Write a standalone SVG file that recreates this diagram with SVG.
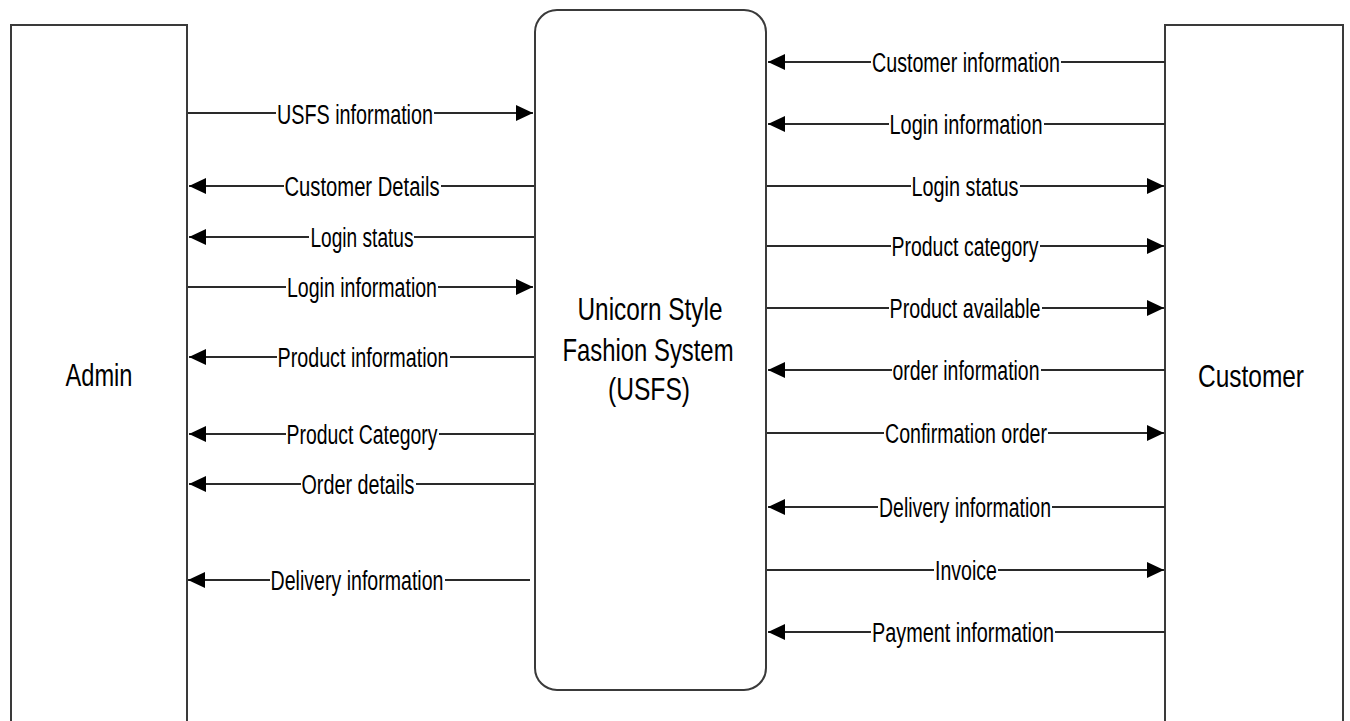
<svg xmlns="http://www.w3.org/2000/svg" width="1350" height="721" viewBox="0 0 1350 721">
  <defs>
    <marker id="arrow" markerUnits="userSpaceOnUse" markerWidth="20" markerHeight="18" refX="17" refY="8" orient="auto">
      <path d="M0,0 L17,8 L0,16 Z" fill="#000"/>
    </marker>
    <style>
      .box { fill: #fff; stroke: #3a3a3a; stroke-width: 2; }
      .flow { stroke: #2a2a2a; stroke-width: 2; fill: none; marker-end: url(#arrow); }
      .lbl { font-family: "Liberation Sans", Arial, sans-serif; font-size: 27px; fill: #000; text-anchor: middle; }
      .bg { fill: #fff; }
      .name { font-family: "Liberation Sans", Arial, sans-serif; font-size: 32px; fill: #000; text-anchor: middle; }
    </style>
  </defs>
  <rect width="1350" height="721" fill="#fff"/>

  <!-- external entity: Admin -->
  <g id="admin">
    <rect class="box" x="11" y="25" width="176" height="720"/>
    <text class="name" x="99" y="386" textLength="67" lengthAdjust="spacingAndGlyphs">Admin</text>
  </g>

  <!-- central process -->
  <g id="usfs">
    <rect class="box" x="535" y="10" width="231" height="680" rx="22" ry="22"/>
    <text class="name" x="650" y="320" textLength="145" lengthAdjust="spacingAndGlyphs">Unicorn Style</text>
    <text class="name" x="648" y="361" textLength="171" lengthAdjust="spacingAndGlyphs">Fashion System</text>
    <text class="name" x="649" y="400" textLength="82" lengthAdjust="spacingAndGlyphs">(USFS)</text>
  </g>

  <!-- external entity: Customer -->
  <g id="customer">
    <rect class="box" x="1165" y="25" width="178" height="720"/>
    <text class="name" x="1251" y="387" textLength="106" lengthAdjust="spacingAndGlyphs">Customer</text>
  </g>

  <!-- data flows -->
  <g id="connectors">
    <!-- Admin side -->
    <line class="flow" x1="188" y1="113" x2="533" y2="113"/>
    <line class="flow" x1="534" y1="186" x2="189" y2="186"/>
    <line class="flow" x1="534" y1="237" x2="189" y2="237"/>
    <line class="flow" x1="188" y1="287" x2="533" y2="287"/>
    <line class="flow" x1="534" y1="357" x2="189" y2="357"/>
    <line class="flow" x1="534" y1="434" x2="189" y2="434"/>
    <line class="flow" x1="534" y1="484" x2="189" y2="484"/>
    <line class="flow" x1="530" y1="580" x2="188" y2="580"/>

    <!-- Customer side -->
    <line class="flow" x1="1165" y1="62" x2="768" y2="62"/>
    <line class="flow" x1="1165" y1="124" x2="768" y2="124"/>
    <line class="flow" x1="767" y1="186" x2="1164" y2="186"/>
    <line class="flow" x1="767" y1="246" x2="1164" y2="246"/>
    <line class="flow" x1="767" y1="308" x2="1164" y2="308"/>
    <line class="flow" x1="1165" y1="370" x2="768" y2="370"/>
    <line class="flow" x1="767" y1="433" x2="1164" y2="433"/>
    <line class="flow" x1="1165" y1="507" x2="768" y2="507"/>
    <line class="flow" x1="767" y1="570" x2="1164" y2="570"/>
    <line class="flow" x1="1165" y1="632" x2="768" y2="632"/>

    <!-- label backgrounds -->
    <rect class="bg" x="276" y="102" width="158" height="24"/>
    <rect class="bg" x="284" y="175" width="157" height="24"/>
    <rect class="bg" x="309" y="226" width="105" height="24"/>
    <rect class="bg" x="286" y="276" width="152" height="24"/>
    <rect class="bg" x="277" y="346" width="173" height="24"/>
    <rect class="bg" x="286" y="423" width="153" height="24"/>
    <rect class="bg" x="301" y="473" width="115" height="24"/>
    <rect class="bg" x="270" y="569" width="175" height="24"/>

    <rect class="bg" x="871" y="51" width="190" height="24"/>
    <rect class="bg" x="889" y="113" width="155" height="24"/>
    <rect class="bg" x="911" y="175" width="109" height="24"/>
    <rect class="bg" x="891" y="235" width="149" height="24"/>
    <rect class="bg" x="889" y="297" width="153" height="24"/>
    <rect class="bg" x="892" y="359" width="149" height="24"/>
    <rect class="bg" x="884" y="422" width="164" height="24"/>
    <rect class="bg" x="878" y="496" width="174" height="24"/>
    <rect class="bg" x="934" y="559" width="64" height="24"/>
    <rect class="bg" x="871" y="621" width="184" height="24"/>

    <!-- labels -->
    <text class="lbl" x="355" y="124" textLength="156" lengthAdjust="spacingAndGlyphs">USFS information</text>
    <text class="lbl" x="362" y="196" textLength="155" lengthAdjust="spacingAndGlyphs">Customer  Details</text>
    <text class="lbl" x="362" y="247" textLength="103" lengthAdjust="spacingAndGlyphs">Login status</text>
    <text class="lbl" x="362" y="297" textLength="150" lengthAdjust="spacingAndGlyphs">Login information</text>
    <text class="lbl" x="363" y="367" textLength="171" lengthAdjust="spacingAndGlyphs">Product information</text>
    <text class="lbl" x="362" y="444" textLength="151" lengthAdjust="spacingAndGlyphs">Product Category</text>
    <text class="lbl" x="358" y="494" textLength="113" lengthAdjust="spacingAndGlyphs">Order details</text>
    <text class="lbl" x="357" y="590" textLength="173" lengthAdjust="spacingAndGlyphs">Delivery information</text>

    <text class="lbl" x="966" y="72" textLength="188" lengthAdjust="spacingAndGlyphs">Customer information</text>
    <text class="lbl" x="966" y="134" textLength="153" lengthAdjust="spacingAndGlyphs">Login information</text>
    <text class="lbl" x="965" y="196" textLength="107" lengthAdjust="spacingAndGlyphs">Login status</text>
    <text class="lbl" x="965" y="256" textLength="147" lengthAdjust="spacingAndGlyphs">Product category</text>
    <text class="lbl" x="965" y="318" textLength="151" lengthAdjust="spacingAndGlyphs">Product available</text>
    <text class="lbl" x="966" y="380" textLength="147" lengthAdjust="spacingAndGlyphs">order information</text>
    <text class="lbl" x="966" y="443" textLength="162" lengthAdjust="spacingAndGlyphs">Confirmation order</text>
    <text class="lbl" x="965" y="517" textLength="172" lengthAdjust="spacingAndGlyphs">Delivery information</text>
    <text class="lbl" x="966" y="580" textLength="62" lengthAdjust="spacingAndGlyphs">Invoice</text>
    <text class="lbl" x="963" y="642" textLength="182" lengthAdjust="spacingAndGlyphs">Payment information</text>
  </g>
</svg>
